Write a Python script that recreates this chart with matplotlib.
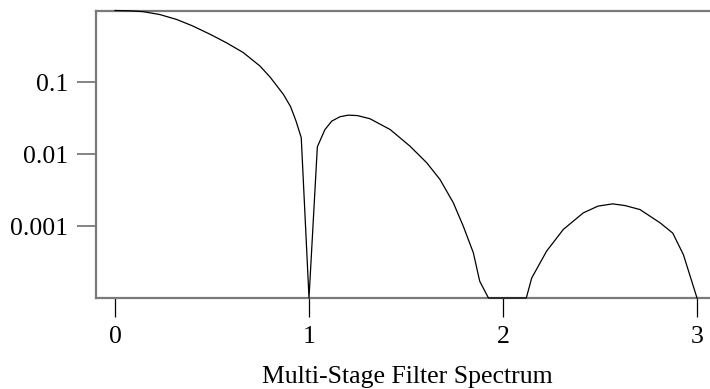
import matplotlib.pyplot as plt

# filter response (values floored at 1e-4)
FREQ = [0.0, 0.074, 0.146, 0.23, 0.318, 0.40, 0.49, 0.575, 0.661, 0.747,
        0.80, 0.868, 0.905, 0.933, 0.96, 1.0, 1.043, 1.082, 1.117, 1.16,
        1.203, 1.25, 1.314, 1.418, 1.52, 1.607, 1.675, 1.744, 1.795, 1.847,
        1.88, 1.925, 2.0, 2.08, 2.12, 2.148, 2.225, 2.311, 2.414, 2.49,
        2.565, 2.63, 2.706, 2.81, 2.875, 2.93, 3.0]
RESPONSE = [1.0, 0.99, 0.963, 0.88, 0.75, 0.61, 0.467, 0.355, 0.26, 0.169,
            0.118, 0.068, 0.046, 0.029, 0.017, 1e-4, 0.0127, 0.022, 0.0289, 0.0333,
            0.035, 0.0345, 0.0312, 0.0221, 0.013, 0.0076, 0.00446, 0.00211, 0.001, 0.000427,
            0.000171, 1e-4, 1e-4, 1e-4, 1e-4, 0.00019, 0.00045, 0.0009, 0.00153, 0.0019,
            0.00204, 0.00193, 0.0017, 0.00111, 0.0008, 0.0004, 1e-4]
X_TICKS = [0, 1, 2, 3]
Y_TICKS = [0.1, 0.01, 0.001]
Y_LABELS = ["0.1", "0.01", "0.001"]
TITLE = "Multi-Stage Filter Spectrum"

plt.rcParams["font.family"] = ["Liberation Serif", "DejaVu Serif"]

fig = plt.figure(figsize=(7.1, 3.89), dpi=100)
ax = fig.add_axes([96 / 710, 91 / 389, 1 - 96 / 710, 287.5 / 389])

ax.plot(FREQ, RESPONSE, color="black", linewidth=0.9, zorder=5, clip_on=False)
ax.set_yscale("log")
ax.set_xlim(-0.098, 3.067)
ax.set_ylim(1e-4, 1.0)

ax.set_yticks(Y_TICKS, Y_LABELS)
ax.minorticks_off()
ax.set_xticks(X_TICKS, [str(t) for t in X_TICKS])

ax.spines["right"].set_visible(False)
for side in ("left", "top", "bottom"):
    ax.spines[side].set_color("#7a7a7a")
    ax.spines[side].set_linewidth(1.6)

ax.tick_params(axis="y", direction="out", length=14, width=1.3, color="#7a7a7a",
               pad=6, labelsize=18.5)
ax.tick_params(axis="x", direction="out", length=14, width=0.9, color="black",
               pad=6, labelsize=18.5)

fig.text(407 / 710, 6 / 389, TITLE, ha="center", va="baseline", fontsize=18.5)

fig.savefig("out.png", dpi=100)
plt.close(fig)
